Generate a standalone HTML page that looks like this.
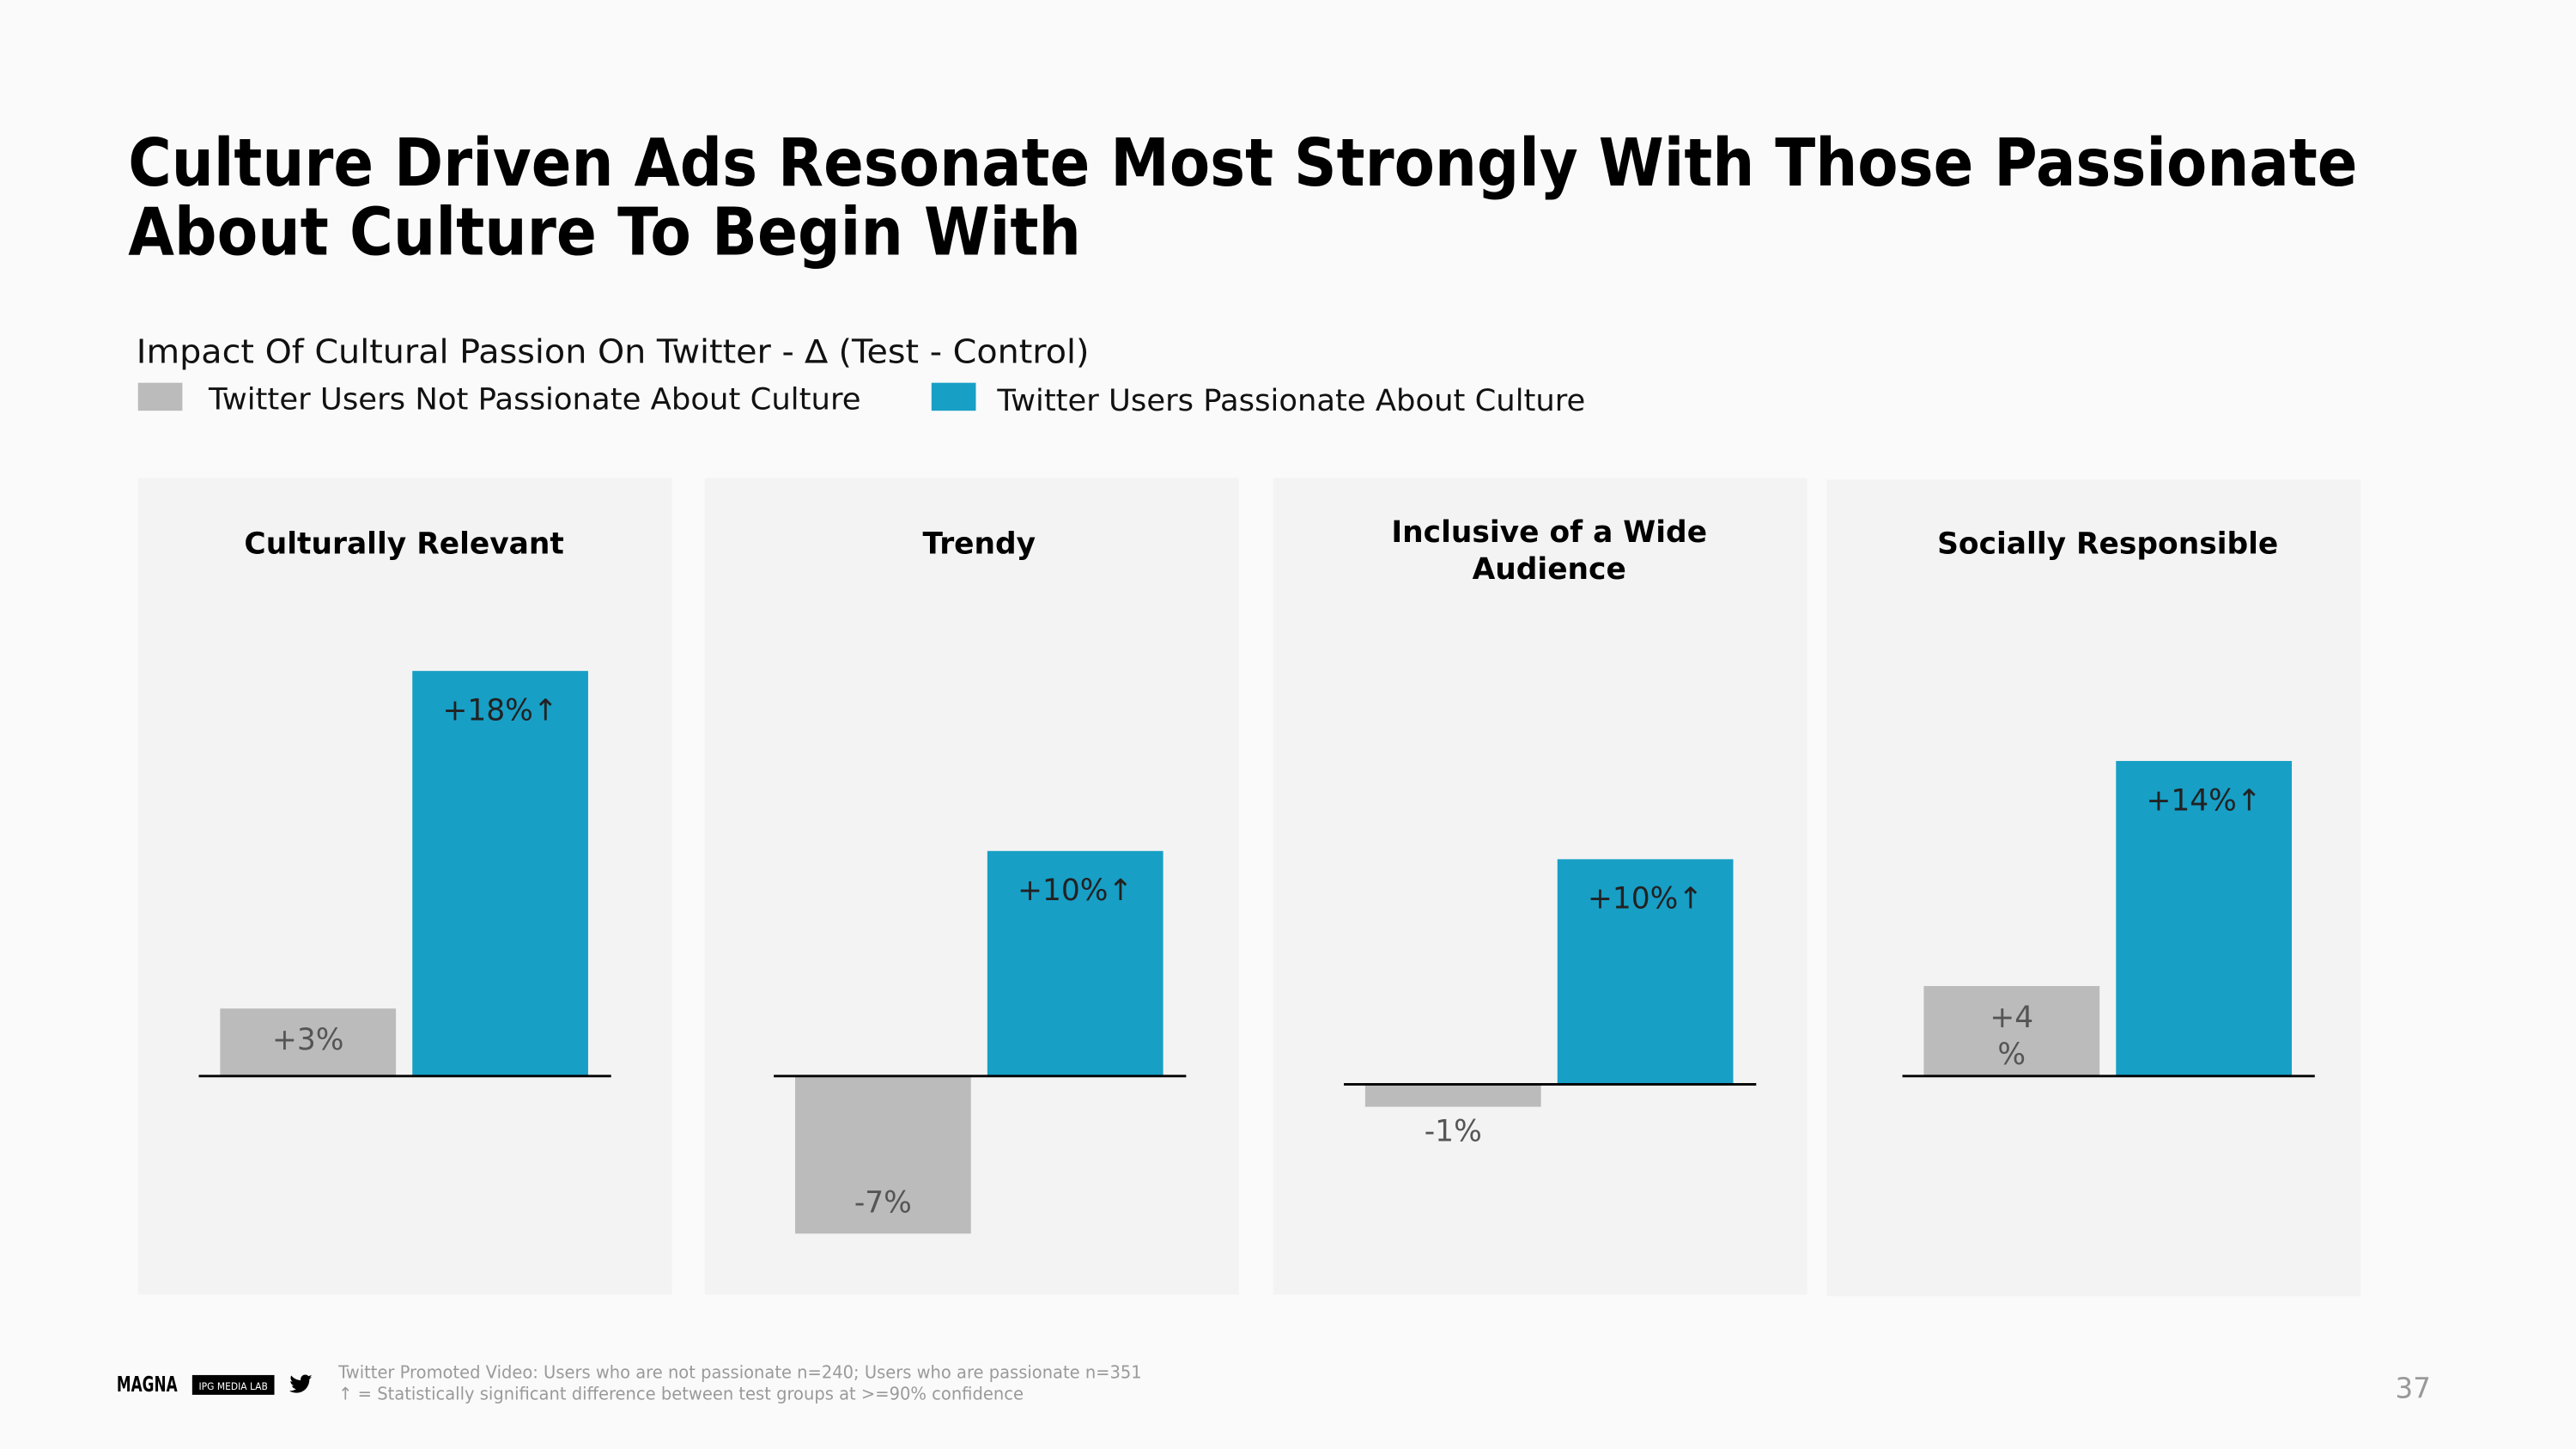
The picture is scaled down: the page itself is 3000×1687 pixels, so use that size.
<!DOCTYPE html>
<html><head><meta charset="utf-8"><style>
html,body{margin:0;padding:0;background:#fafafa;}
svg{display:block;font-family:"DejaVu Sans","Liberation Sans",sans-serif;}
</style></head><body>
<svg id="chart" width="3000" height="1687" viewBox="0 0 1568 882" preserveAspectRatio="none" xmlns="http://www.w3.org/2000/svg">
<rect x="0" y="0" width="1568" height="882" fill="#fafafa"/>
<text x="78" y="113" font-size="40" font-weight="bold" fill="#000" textLength="1357" lengthAdjust="spacingAndGlyphs">Culture Driven Ads Resonate Most Strongly With Those Passionate</text>
<text x="78" y="155" font-size="40" font-weight="bold" fill="#000" textLength="580" lengthAdjust="spacingAndGlyphs">About Culture To Begin With</text>
<text x="83" y="221" font-size="20" fill="#111" textLength="580" lengthAdjust="spacingAndGlyphs">Impact Of Cultural Passion On Twitter - ∆ (Test - Control)</text>
<rect x="84" y="233" width="27" height="17" fill="#bbbbbb"/>
<text x="127" y="249" font-size="18" fill="#111" textLength="397" lengthAdjust="spacingAndGlyphs">Twitter Users Not Passionate About Culture</text>
<rect x="567" y="233" width="27" height="17" fill="#179fc6"/>
<text x="607" y="250" font-size="18" fill="#111" textLength="358" lengthAdjust="spacingAndGlyphs">Twitter Users Passionate About Culture</text>
<g id="panels"></g>
<g>
<text x="71" y="847" font-size="13" font-weight="bold" fill="#000" textLength="37" lengthAdjust="spacingAndGlyphs">MAGNA</text>
<rect x="117" y="837" width="50" height="12" fill="#000"/>
<text x="121" y="846" font-size="6" fill="#fff" textLength="42" lengthAdjust="spacingAndGlyphs">IPG MEDIA LAB</text>
<path d="M190 838c-.5.3-1 .4-1.6.5.6-.4 1-.9 1.2-1.5-.6.3-1.1.5-1.8.7-.5-.6-1.200-.9-2-.9-1.5 0-2.8 1.2-2.8 2.8 0 .2 0 .4.1.6-2.3-.1-4.4-1.2-5.8-2.9-.2.4-.4.9-.4 1.4 0 1 .5 1.8 1.2 2.3-.5 0-.9-.1-1.3-.3 0 1.3 1 2.5 2.2 2.7-.4.1-.8.2-1.3.1.4 1.1 1.4 1.900 2.6 1.9-1 .8-2.2 1.2-3.5 1.2h-.7c1.2.8 2.7 1.2 4.3 1.2 5.1 0 7.9-4.2 7.9-7.9v-.4c.7-.4 1.2-1 1.7-1.6z" fill="#000"/>
<text x="206" y="839" font-size="10.5" fill="#9a9a9a" textLength="489" lengthAdjust="spacingAndGlyphs">Twitter Promoted Video: Users who are not passionate n=240; Users who are passionate n=351</text>
<text x="206" y="852" font-size="10.5" fill="#9a9a9a" textLength="417" lengthAdjust="spacingAndGlyphs">↑ = Statistically significant difference between test groups at &gt;=90% confidence</text>
<text x="1458" y="851" font-size="17" fill="#999">37</text>
</g>
</svg>
<script>
const categories = ["Culturally Relevant", "Trendy", "Inclusive of a Wide|Audience", "Socially Responsible"];
const notPassionateValues = [3, -7, -1, 4];
const passionateValues = [18, 10, 10, 14];
const notPassionateLabels = ["+3%", "-7%", "-1%", "+4|%"];
const passionateLabels = ["+18%↑", "+10%↑", "+10%↑", "+14%↑"];

const NS = "http://www.w3.org/2000/svg";
const panelX = [84, 429, 775, 1112];
const panelTop = [291, 291, 291, 292];
const baseY = [655, 655, 660, 655];
const grayOffset = [50, 55, 56, 59];
const PW = 325, PH = 497, BW = 107, GAP = 117, PX_PER_UNIT = 13.7;
function yScale(v, i) { return baseY[i] - v * PX_PER_UNIT; }
const root = document.getElementById('panels');
function mk(tag, attrs, parent) {
  const el = document.createElementNS(NS, tag);
  for (const k in attrs) el.setAttribute(k, attrs[k]);
  parent.appendChild(el);
  return el;
}
function addText(parent, x, y, str, size, fill, weight) {
  const lines = str.split('|');
  const t = mk('text', {x: x, y: y, 'font-size': size, fill: fill, 'text-anchor': 'middle', 'font-weight': weight || 'normal'}, parent);
  lines.forEach((ln, k) => {
    const ts = mk('tspan', {x: x, dy: k === 0 ? 0 : size * 1.25}, t);
    ts.textContent = ln;
  });
  return t;
}
categories.forEach((cat, i) => {
  const g = mk('g', {}, root);
  
  
  const bg = mk('rect', {x: panelX[i], y: panelTop[i], width: PW, height: PH, fill: '#f3f3f3'}, g);
  
  
  const gx = panelX[i] + grayOffset[i];
  const bx = gx + GAP;
  const cx = gx + (GAP + BW) / 2;
  const multi = cat.indexOf('|') >= 0;
  const tt = addText(g, cx, multi ? 330 : 337, cat, 18, '#000', 'bold');
  
  
  const v1 = notPassionateValues[i];
  const y1 = Math.min(yScale(v1, i), baseY[i]);
  const h1 = Math.abs(yScale(v1, i) - baseY[i]);
  const b1 = mk('rect', {x: gx, y: y1, width: BW, height: h1, fill: '#bbbbbb'}, g);
  
  
  let ly;
  if (v1 >= 0) ly = y1 + 25;
  else if (h1 > 40) ly = y1 + h1 - 13;
  else ly = y1 + h1 + 21;
  const l1 = addText(g, gx + BW / 2, ly, notPassionateLabels[i], 18, '#555');
  
  
  const v2 = passionateValues[i];
  const y2 = Math.min(yScale(v2, i), baseY[i]);
  const h2 = Math.abs(yScale(v2, i) - baseY[i]);
  const b2 = mk('rect', {x: bx, y: y2, width: BW, height: h2, fill: '#179fc6'}, g);
  
  
  const l2 = addText(g, bx + BW / 2, y2 + 30, passionateLabels[i], 18, '#222');
  
  
  const ax = mk('line', {x1: gx - 13, x2: gx - 13 + 251, y1: baseY[i], y2: baseY[i], stroke: '#000', 'stroke-width': 1.5}, g);
  
  
});
</script>
</body></html>
